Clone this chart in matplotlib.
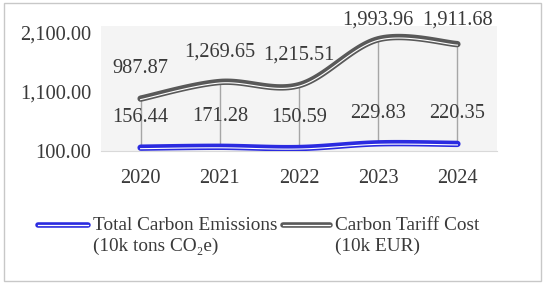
import matplotlib
matplotlib.use("Agg")
import matplotlib.pyplot as plt
import matplotlib.transforms as mtransforms
import numpy as np
from matplotlib.lines import Line2D
from matplotlib.patches import Rectangle

# data
years = ["2020", "2021", "2022", "2023", "2024"]
emissions = [156.44, 171.28, 150.59, 229.83, 220.35]     # 10k tons CO2e
tariff = [987.87, 1269.65, 1215.51, 1993.96, 1911.68]   # 10k EUR
yticks = [100, 1100, 2100]
series_names = ["Total Carbon Emissions\n(10k tons CO\u2082e)",
                "Carbon Tariff Cost\n(10k EUR)"]

BLUE = "#2b2be0"
GREY = "#595959"
TXT = "#3a3a3a"
FONT = ["Liberation Serif", "DejaVu Serif"]
FS = 14.7
FS_LEG = 13.9

plt.rcParams["font.family"] = FONT


def smooth(x, y, n=30):
    # Excel style smoothed line: bezier segments with catmull-rom control points
    x = np.asarray(x, float)
    y = np.asarray(y, float)
    px = np.concatenate([[x[0]], x, [x[-1]]])
    py = np.concatenate([[y[0]], y, [y[-1]]])
    xs, ys = [], []
    t = np.linspace(0, 1, n)
    for i in range(1, len(px) - 2):
        p0 = np.array([px[i], py[i]])
        p3 = np.array([px[i + 1], py[i + 1]])
        p1 = p0 + (np.array([px[i + 1], py[i + 1]]) - np.array([px[i - 1], py[i - 1]])) / 6
        p2 = p3 - (np.array([px[i + 2], py[i + 2]]) - np.array([px[i], py[i]])) / 6
        b = ((1 - t) ** 3)[:, None] * p0 + (3 * (1 - t) ** 2 * t)[:, None] * p1 \
            + (3 * (1 - t) * t ** 2)[:, None] * p2 + (t ** 3)[:, None] * p3
        xs.append(b[:, 0])
        ys.append(b[:, 1])
    return np.concatenate(xs), np.concatenate(ys)


fig = plt.figure(figsize=(5.45, 2.85), dpi=100)
fig.patches.append(Rectangle((4 / 545, 4 / 285), 537 / 545, 278 / 285,
                             transform=fig.transFigure, fill=False,
                             edgecolor="#c8c8c8", lw=1))

ax = fig.add_axes([101 / 545, 134 / 285, 396 / 545, 125 / 285])
ax.set_facecolor("#f4f4f4")
x = np.arange(len(years))

# high-low lines
ax.vlines(x, emissions, tariff, color="#a6a6a6", lw=1, zorder=2)

# white stripe sits a little below the centre of the thick line
stripe = mtransforms.offset_copy(ax.transData, fig=fig, y=-1, units="dots")

for vals, col in [(emissions, BLUE), (tariff, GREY)]:
    sx, sy = smooth(x, vals)
    ax.plot(sx, sy, color=col, lw=4.6, solid_capstyle="round", zorder=3)
    ax.plot(sx, sy, color="white", lw=0.8, zorder=4, transform=stripe)
    for i, v in enumerate(vals):
        ax.text(i, min(v + 510, 2320), f"{v:,.2f}", ha="center", va="center",
                fontsize=FS, color=TXT, clip_on=False)

ax.set_xlim(-0.5, len(years) - 0.5)
ax.set_ylim(100, 2219)
ax.set_xticks(x)
ax.set_xticklabels(years)
ax.set_yticks(yticks)
ax.set_yticklabels([f"{v:,.2f}" for v in yticks])
ax.tick_params(length=0, labelsize=FS, labelcolor=TXT)
ax.tick_params(axis="x", pad=13)
ax.tick_params(axis="y", pad=7)
for s in ["top", "right", "left"]:
    ax.spines[s].set_visible(False)
ax.spines["bottom"].set_color("#d9d9d9")

# legend drawn by hand so the key sits on the first text line
leg_x = [(38, 88, 93), (283, 330, 335)]
for (x0, x1, tx), col, name in zip(leg_x, [BLUE, GREY], series_names):
    yy = 1 - 225 / 285
    fig.add_artist(Line2D([x0 / 545, x1 / 545], [yy, yy], color=col, lw=4,
                          solid_capstyle="round", transform=fig.transFigure))
    fig.add_artist(Line2D([x0 / 545, x1 / 545], [yy, yy], color="white", lw=0.9,
                          transform=fig.transFigure))
    fig.text(tx / 545, 1 - 217 / 285, name, ha="left", va="top", fontsize=FS_LEG,
             color=TXT, linespacing=1.3)

fig.savefig("out.png", dpi=100)
